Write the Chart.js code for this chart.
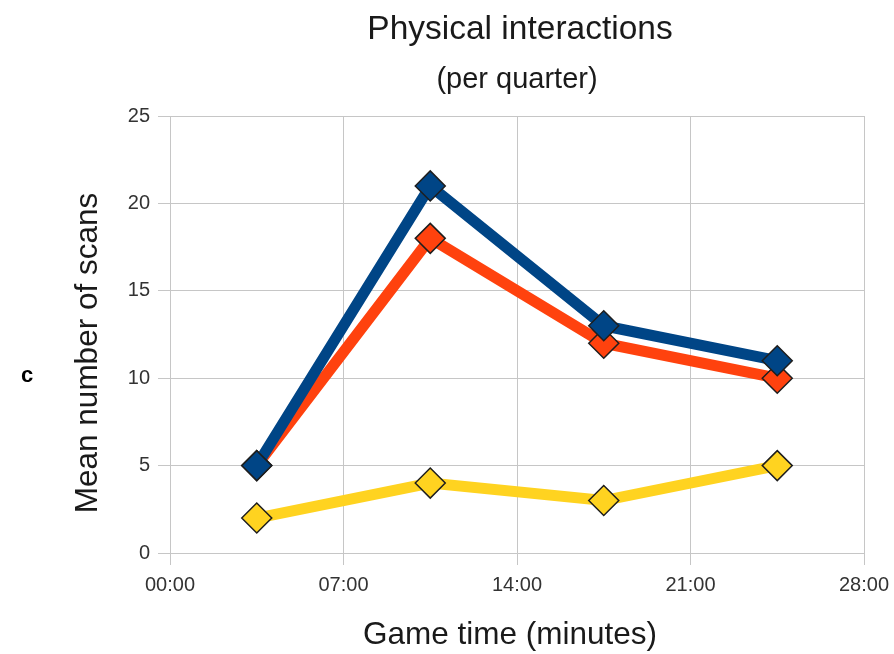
<!DOCTYPE html>
<html>
<head>
<meta charset="utf-8">
<title>Physical interactions</title>
<script src="https://cdn.jsdelivr.net/npm/chart.js@4/dist/chart.umd.min.js"></script>
<style>
  html, body { margin: 0; padding: 0; background: #ffffff; }
  #wrap { position: relative; width: 894px; height: 654px; }
</style>
</head>
<body>
<div id="wrap"><canvas id="chart" width="894" height="654"></canvas></div>
<script>
// Game time (minutes) at the middle of each quarter
const quarterMinutes = [3.5, 10.5, 17.5, 24.5];

// Mean number of scans per quarter, one list per group
const groupTop = [5, 21, 13, 11];
const groupMid = [5, 18, 12, 10];
const groupLow = [2, 4, 3, 5];

// Axis ticks
const timeTicks = [0, 7, 14, 21, 28];
const scanTicks = [0, 5, 10, 15, 20, 25];

const FONT = '"Liberation Sans", Arial, sans-serif';
const GRID = '#c6c6c6';

function toPoints(values) {
  return quarterMinutes.map((m, i) => ({ x: m, y: values[i] }));
}
function mmss(v) {
  return String(v).padStart(2, '0') + ':00';
}

function series(label, values, color) {
  return {
    label: label,
    data: toPoints(values),
    borderColor: color,
    backgroundColor: color,
    borderWidth: 11,
    pointStyle: 'rectRot',
    pointRadius: 15,
    pointHoverRadius: 15,
    pointBackgroundColor: color,
    pointBorderColor: '#1e1e1e',
    pointBorderWidth: 1.5,
    tension: 0,
    borderJoinStyle: 'miter'
  };
}

// Headings and axis titles drawn straight onto the canvas
const textPlugin = {
  id: 'chartTexts',
  afterDraw(chart) {
    const ctx = chart.ctx;
    ctx.save();
    ctx.fillStyle = '#1a1a1a';
    ctx.textAlign = 'center';
    ctx.textBaseline = 'alphabetic';

    ctx.font = '33.5px ' + FONT;
    ctx.fillText('Physical interactions', 520, 39);

    ctx.font = '29px ' + FONT;
    ctx.fillText('(per quarter)', 517, 88);

    ctx.font = '31.5px ' + FONT;
    ctx.fillText('Game time (minutes)', 510, 644);

    ctx.save();
    ctx.translate(97, 353);
    ctx.rotate(-Math.PI / 2);
    ctx.fillText('Mean number of scans', 0, 0);
    ctx.restore();

    ctx.fillStyle = '#000000';
    ctx.textBaseline = 'middle';
    ctx.font = 'bold 22px ' + FONT;
    ctx.fillText('c', 27, 376);
    ctx.restore();
  }
};

new Chart(document.getElementById('chart'), {
  type: 'line',
  data: {
    datasets: [
      series('Group 1', groupTop, '#004586'),
      series('Group 2', groupMid, '#ff420e'),
      series('Group 3', groupLow, '#ffd320')
    ]
  },
  options: {
    responsive: false,
    animation: false,
    events: [],
    layout: { padding: { left: 0, right: 30, top: 116, bottom: 0 } },
    plugins: {
      legend: { display: false },
      tooltip: { enabled: false }
    },
    scales: {
      x: {
        type: 'linear',
        min: timeTicks[0],
        max: timeTicks[timeTicks.length - 1],
        afterBuildTicks(axis) {
          axis.ticks = timeTicks.map(v => ({ value: v }));
        },
        afterFit(axis) {
          axis.height = 101;
          axis.paddingLeft = 0;
          axis.paddingRight = 0;
        },
        grid: {
          color: GRID,
          lineWidth: 1,
          tickLength: 12,
          tickColor: GRID
        },
        border: { color: GRID, width: 1 },
        ticks: {
          color: '#333333',
          font: { family: FONT, size: 20 },
          padding: 8,
          maxRotation: 0,
          callback: v => mmss(v)
        }
      },
      y: {
        type: 'linear',
        min: scanTicks[0],
        max: scanTicks[scanTicks.length - 1],
        afterBuildTicks(axis) {
          axis.ticks = scanTicks.map(v => ({ value: v }));
        },
        afterFit(axis) { axis.width = 170; },
        grid: {
          color: GRID,
          lineWidth: 1,
          tickLength: 12,
          tickColor: GRID
        },
        border: { color: GRID, width: 1 },
        ticks: {
          color: '#333333',
          font: { family: FONT, size: 20 },
          padding: 8
        }
      }
    }
  },
  plugins: [textPlugin]
});
</script>
</body>
</html>
